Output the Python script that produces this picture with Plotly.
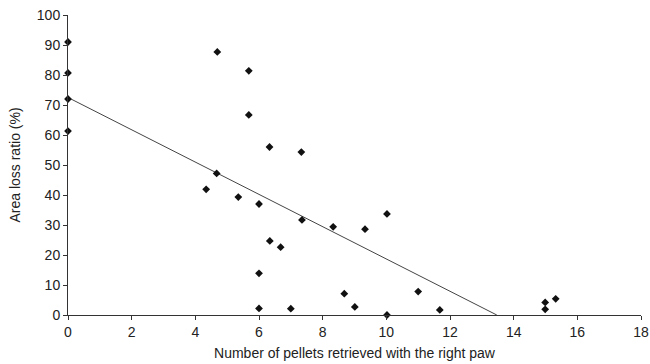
import plotly.graph_objects as go

pellets = [0, 0, 0, 0, 4.69, 5.68, 5.68, 6.33, 7.33, 4.67, 4.34, 5.35, 6.0, 7.35,
           8.33, 9.33, 10.02, 6.34, 6.68, 6.0, 6.0, 7.0, 8.68, 9.01, 10.02, 11.0,
           11.68, 14.99, 14.99, 15.32]
area_loss = [91, 80.7, 72, 61.3, 87.7, 81.4, 66.7, 56, 54.3, 47.2, 41.9, 39.3, 37, 31.7,
             29.4, 28.6, 33.7, 24.7, 22.6, 13.9, 2.2, 2.1, 7.1, 2.7, 0, 7.8,
             1.7, 4.2, 1.9, 5.4]

trend_x = [0, 13.47]
trend_y = [72.5, 0]

x_ticks = [0, 2, 4, 6, 8, 10, 12, 14, 16, 18]
y_ticks = [0, 10, 20, 30, 40, 50, 60, 70, 80, 90, 100]

font = dict(family="Liberation Sans, Arial, sans-serif", size=14, color="#222")

fig = go.Figure()
fig.add_trace(go.Scatter(x=trend_x, y=trend_y, mode="lines",
                         line=dict(color="#444", width=1), showlegend=False,
                         cliponaxis=False))
fig.add_trace(go.Scatter(x=pellets, y=area_loss, mode="markers",
                         marker=dict(symbol="diamond", size=6, color="#111"),
                         showlegend=False, cliponaxis=False))

fig.update_layout(
    width=650, height=364,
    margin=dict(l=68, r=9, t=15, b=49),
    plot_bgcolor="white", paper_bgcolor="white",
    font=font,
    xaxis=dict(range=[0, 18], tickvals=x_ticks, showgrid=False, zeroline=False,
               showline=True, linecolor="#333", linewidth=1, automargin=False,
               ticks="outside", ticklen=4, tickcolor="#333",
               title=dict(text="Number of pellets retrieved with the right paw",
                          font=font, standoff=9)),
    yaxis=dict(range=[0, 100], tickvals=y_ticks, showgrid=False, zeroline=False,
               showline=True, linecolor="#333", linewidth=1, automargin=False,
               ticks="outside", ticklen=4, tickcolor="#333",
               title=dict(text="Area loss ratio (%)", font=font, standoff=12)),
)

fig.write_html("out.html", config={"displayModeBar": False},
               post_script="document.body.style.margin='0';document.body.style.overflow='hidden';")
